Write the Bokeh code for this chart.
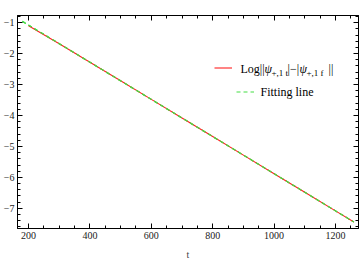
from bokeh.plotting import figure
from bokeh.embed import file_html
from bokeh.resources import INLINE
from bokeh.models import (Range1d, LinearAxis, SingleIntervalTicker, Label, Legend, LegendItem,
                          CustomJSTickFormatter)

# data
t_vals = [200, 300, 400, 500, 600, 700, 800, 900, 1000, 1100, 1200, 1260]
log_diff = [-1.10, -1.68, -2.28, -2.88, -3.48, -4.08, -4.68, -5.28, -5.88, -6.48, -7.08, -7.44]
fit_t = [180, 1260]
fit_y = [-0.96, -7.44]
x_ticks_labels = {200: "200", 400: "400", 600: "600", 800: "800", 1000: "1000", 1200: "1200"}
y_tick_labels = {-1: "\u22121", -2: "\u22122", -3: "\u22123", -4: "\u22124",
                 -5: "\u22125", -6: "\u22126", -7: "\u22127"}

FONT = "Liberation Serif"

p = figure(width=360, height=262, output_backend="svg", toolbar_location=None,
           x_range=Range1d(164, 1275), y_range=Range1d(-7.65, -0.77),
           min_border_left=16, min_border_right=2, min_border_top=15, min_border_bottom=34,
           x_axis_label="t")
p.xgrid.visible = False
p.ygrid.visible = False
p.outline_line_color = "black"
p.background_fill_color = "white"
p.border_fill_color = "white"

r_fit = p.line(fit_t, fit_y, line_color="#44dd44", line_width=1.2, line_dash="4 3")
r_data = p.line(t_vals, log_diff, line_color="#ff2020", line_width=1.1)
# dashed fit drawn again on top so both stay visible where they overlap
p.line(fit_t, fit_y, line_color="#44dd44", line_width=1.2, line_dash="4 3")

xt = SingleIntervalTicker(interval=200, num_minor_ticks=4)
yt = SingleIntervalTicker(interval=1, num_minor_ticks=5)

def style(ax):
    ax.axis_line_color = "black"
    ax.major_tick_in = 5
    ax.major_tick_out = 0
    ax.minor_tick_in = 3
    ax.minor_tick_out = 0
    ax.major_tick_line_color = "black"
    ax.minor_tick_line_color = "black"
    ax.major_label_text_font = FONT
    ax.major_label_text_font_size = "10px"
    ax.major_label_text_color = "#222222"
    ax.major_label_standoff = 3

xa = p.xaxis[0]
xa.ticker = xt
style(xa)
xa.major_label_overrides = x_ticks_labels
xa.axis_label_text_font = FONT
xa.axis_label_text_font_style = "normal"
xa.axis_label_text_font_size = "10px"
xa.axis_label_standoff = 7

ya = p.yaxis[0]
ya.ticker = yt
style(ya)
ya.major_label_overrides = y_tick_labels

blank = CustomJSTickFormatter(code="return ''")
top = LinearAxis(ticker=xt, formatter=blank)
style(top)
top.major_label_text_font_size = "0px"
top.major_label_standoff = 0
p.add_layout(top, "above")
right = LinearAxis(ticker=yt, formatter=blank)
style(right)
right.major_label_text_font_size = "0px"
right.major_label_standoff = 0
p.add_layout(right, "right")

# legend samples
def mk_legend(renderer, x, y):
    lg = Legend(items=[LegendItem(label=" ", renderers=[renderer])], location=(x, y),
                border_line_color=None, background_fill_alpha=0, padding=0, margin=0,
                spacing=0, glyph_width=18, glyph_height=9, label_standoff=0,
                label_width=0, label_text_font_size="1px", label_height=9)
    p.add_layout(lg)

mk_legend(r_data, 197, 156)
mk_legend(r_fit, 219, 132)

def lab(text, x, y, size="12px", style="normal"):
    p.add_layout(Label(x=x, y=y, x_units="screen", y_units="screen", text=text,
                       text_font=FONT, text_font_size=size, text_color="black",
                       text_font_style=style,
                       text_baseline="middle", text_align="left"))

lab("Log||", 223, 160)
lab("\u03c8", 247, 160, style="italic")
lab("+,1 t", 254, 156, "9px")
lab("|\u2212|", 270, 160)
lab("\u03c8", 282, 160, style="italic")
lab("+,1 f", 289, 156, "9px")
lab("||", 311, 160)
lab("Fitting line", 243, 137)

open("out.html", "w").write(file_html(p, INLINE))
